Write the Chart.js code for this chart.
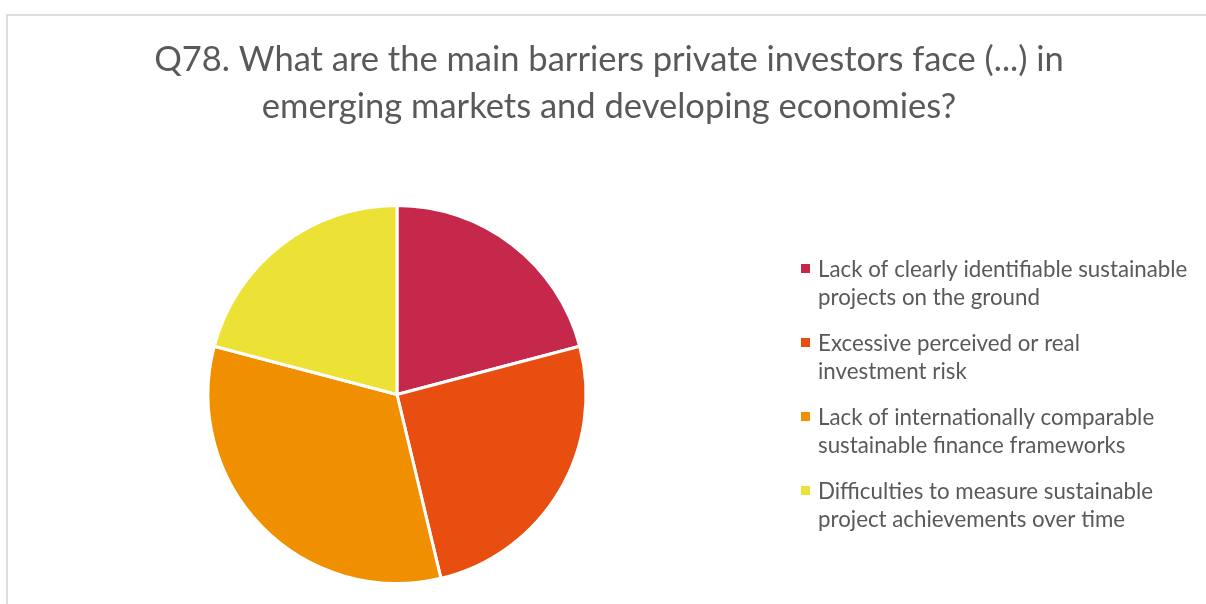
<!DOCTYPE html>
<html>
<head>
<meta charset="utf-8">
<script src="https://cdn.jsdelivr.net/npm/chart.js@4/dist/chart.umd.min.js"></script>
<style>
  html, body { margin: 0; padding: 0; background: #ffffff; }
  #wrap { position: relative; width: 1206px; height: 604px; }
  canvas { display: block; }
</style>
</head>
<body>
<div id="wrap"><canvas id="c" width="1206" height="604"></canvas></div>
<script>
const titleLines = [
  'Q78. What are the main barriers private investors face (...) in',
  'emerging markets and developing economies?'
];
const categories = [
  'Lack of clearly identifiable sustainable projects on the ground',
  'Excessive perceived or real investment risk',
  'Lack of internationally comparable sustainable finance frameworks',
  'Difficulties to measure sustainable project achievements over time'
];
const legendLines = [
  ['Lack of clearly identifiable sustainable', 'projects on the ground'],
  ['Excessive perceived or real', 'investment risk'],
  ['Lack of internationally comparable', 'sustainable finance frameworks'],
  ['Difficulties to measure sustainable', 'project achievements over time']
];
const values = [14, 17, 22, 14];
const colors = ['#c6284b', '#e84e0f', '#f09000', '#ebe235'];

const FONT = 'Lato, "Open Sans", "Liberation Sans", sans-serif';
const TEXT_COLOR = '#595959';

const decorPlugin = {
  id: 'decor',
  beforeDraw(chart) {
    const ctx = chart.ctx;
    ctx.save();
    ctx.fillStyle = '#ffffff';
    ctx.fillRect(0, 0, chart.width, chart.height);
    ctx.strokeStyle = '#dedede';
    ctx.lineWidth = 2;
    ctx.beginPath();
    ctx.moveTo(7, chart.height);
    ctx.lineTo(7, 15);
    ctx.lineTo(chart.width, 15);
    ctx.stroke();
    ctx.restore();
  },
  afterDraw(chart) {
    const ctx = chart.ctx;
    ctx.save();
    // title
    ctx.fillStyle = TEXT_COLOR;
    ctx.textAlign = 'center';
    ctx.textBaseline = 'alphabetic';
    ctx.font = '34.5px ' + FONT;
    const tb = [71, 118];
    titleLines.forEach((t, i) => ctx.fillText(t, 609, tb[i]));
    // legend
    ctx.textAlign = 'left';
    ctx.font = '22.3px ' + FONT;
    const firstBase = 277, itemGap = 74, lineGap = 27.5;
    legendLines.forEach((lines, i) => {
      const y0 = firstBase + i * itemGap;
      ctx.fillStyle = chart.data.datasets[0].backgroundColor[i];
      ctx.fillRect(801, y0 - 13, 9, 9);
      ctx.fillStyle = TEXT_COLOR;
      lines.forEach((ln, j) => ctx.fillText(ln, 818, y0 + j * lineGap));
    });
    ctx.restore();
  }
};

new Chart(document.getElementById('c'), {
  type: 'pie',
  data: {
    labels: categories,
    datasets: [{
      data: values,
      backgroundColor: colors,
      borderColor: '#ffffff',
      borderWidth: 3
    }]
  },
  options: {
    responsive: false,
    animation: false,
    layout: { padding: { left: 206, right: 618, top: 204, bottom: 19 } },
    plugins: {
      legend: { display: false },
      title: { display: false },
      tooltip: { enabled: false }
    }
  },
  plugins: [decorPlugin]
});
</script>
</body>
</html>
